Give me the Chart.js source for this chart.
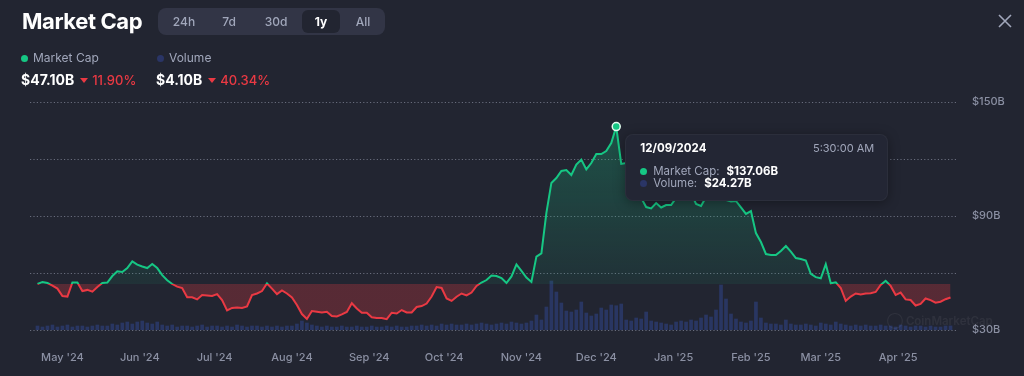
<!DOCTYPE html>
<html>
<head>
<meta charset="utf-8">
<script src="https://cdn.jsdelivr.net/npm/chart.js@4.4.1/dist/chart.umd.min.js"></script>
<style>
  html, body { margin: 0; padding: 0; background: #222531; }
  body { width: 1024px; height: 376px; position: relative; overflow: hidden; font-family: Inter, "Noto Sans", sans-serif; color: #fff; }
  #chart { position: absolute; left: 0; top: 0; }
  #title { position: absolute; left: 22px; top: 6px; font-size: 22px; font-weight: 700; letter-spacing: -0.4px; line-height: 30px; }
  .tabs { position: absolute; left: 158px; top: 8px; width: 227px; height: 27px; background: #323546; border-radius: 8px; }
  .tabs .on { position: absolute; left: 144px; top: 2px; width: 38px; height: 23px; background: #222531; border-radius: 6px; }
  .tab { position: absolute; top: 0; height: 27px; line-height: 27px; font-size: 12px; color: #a1a7bb; font-weight: 500; transform: translateX(-50%); }
  .tab.act { color: #fff; font-weight: 700; }
  #close { position: absolute; left: 998px; top: 14px; }
  .leg { position: absolute; top: 51px; font-size: 12px; color: #a1a7bb; line-height: 14px; }
  .leg i { display: inline-block; width: 7px; height: 7px; border-radius: 50%; margin-right: 5px; vertical-align: 0px; }
  .val { position: absolute; top: 71px; font-size: 14px; font-weight: 700; line-height: 18px; white-space: nowrap; }
  .val .chg { color: #ea3943; font-size: 13px; font-weight: 500; margin-left: 6px; }
  .val .tri { display: inline-block; width: 0; height: 0; border-left: 4px solid transparent; border-right: 4px solid transparent; border-top: 5px solid #ea3943; margin-right: 4px; vertical-align: 2px; }
  #tip { position: absolute; display: none; width: 263px; height: 67px; box-sizing: border-box; background: #232634; border: 1px solid rgba(255,255,255,0.04); border-radius: 8px; box-shadow: 0 2px 12px rgba(0,0,0,0.35); }
  #tip .head { margin: 6px 13px 0 14px; height: 14px; line-height: 14px; display: flex; justify-content: space-between; }
  #tip .head b { font-size: 11.5px; }
  #tip .head span { font-size: 11px; color: #a1a7bb; }
  #tip .row { margin-left: 14px; height: 12px; line-height: 12px; font-size: 11.5px; white-space: nowrap; }
  #tip .row.first { margin-top: 10px; }
  #tip .row i { display: inline-block; width: 7px; height: 7px; border-radius: 50%; margin-right: 6px; vertical-align: 0px; }
  #tip .row span { color: #a1a7bb; margin-right: 7px; }
  #mark { position: absolute; left: 887px; top: 314px; font-size: 11.5px; color: rgba(255,255,255,0.06); font-weight: 600; }
</style>
</head>
<body>
<canvas id="chart" width="1024" height="376"></canvas>

<div id="title">Market Cap</div>
<div class="tabs">
  <div class="on"></div>
  <div class="tab" style="left:26px">24h</div>
  <div class="tab" style="left:71px">7d</div>
  <div class="tab" style="left:118px">30d</div>
  <div class="tab act" style="left:163px">1y</div>
  <div class="tab" style="left:205px">All</div>
</div>
<svg id="close" width="14" height="14"><path d="M1 1L13 13M13 1L1 13" stroke="#a1a7bb" stroke-width="1.6"/></svg>

<div class="leg" style="left:21px"><i style="background:#16c784"></i>Market Cap</div>
<div class="leg" style="left:157px"><i style="background:#2a3566"></i>Volume</div>
<div class="val" style="left:21px">$47.10B<span class="chg"><span class="tri"></span>11.90%</span></div>
<div class="val" style="left:156px">$4.10B<span class="chg"><span class="tri"></span>40.34%</span></div>

<div id="mark">&#9711; CoinMarketCap</div>

<div id="tip">
  <div class="head"><b id="tipDate"></b><span id="tipTime"></span></div>
  <div class="row first"><i style="background:#16c784"></i><span>Market Cap:</span><b id="tipCap"></b></div>
  <div class="row"><i style="background:#2a3566"></i><span>Volume:</span><b id="tipVol"></b></div>
</div>

<script>
// one sample every 2 days, starting 21 Apr 2024
const startDate = Date.UTC(2024, 3, 21);
const days = [];
for (let d = 0; d <= 366; d += 2) days.push(d);

// market cap, $B
const mcap = [54.2,55.3,54.7,53.4,51.8,47.9,47.6,55.0,55.0,50.5,
  51.1,50.2,52.6,54.7,55.0,58.4,60.9,60.5,62.6,66.1,
  64.4,63.4,62.6,64.7,62.6,58.9,56.2,54.2,52.8,52.1,
  47.2,47.2,46.1,48.4,48.2,47.9,48.9,45.8,40.3,41.6,
  41.9,41.6,42.4,48.4,49.2,50.5,54.5,51.8,48.9,50.8,
  49.2,47.1,43.2,38.4,35.8,40.0,39.6,39.2,39.6,37.4,
  37.1,38.2,39.5,44.1,41.3,39.1,39.1,36.7,36.3,36.3,
  35.7,39.1,38.7,40.5,39.2,39.2,42.1,42.6,43.9,47.6,
  52.6,52.1,46.6,45.3,47.5,49.2,48.2,49.7,53.2,55.0,
  56.3,58.7,58.4,57.3,54.7,58.2,64.5,61.1,57.6,55.3,
  68.6,70.3,91.6,107.4,110.0,113.7,114.2,111.6,117.1,119.7,
  114.5,117.9,122.6,122.6,124.2,128.4,137.06,117.4,117.9,116.8,
  106.3,99.5,94.7,94.0,96.8,94.5,95.8,95.8,99.5,104.7,
  106.8,102.1,96.3,95.3,100.0,104.7,110.0,110.0,98.4,97.6,
  97.9,94.5,91.1,92.6,81.0,76.3,70.0,69.5,69.5,71.6,
  74.2,71.3,67.9,67.4,66.6,59.5,57.8,57.2,64.7,54.6,
  55.1,52.1,45.3,47.6,49.2,48.7,49.2,49.3,50.0,53.7,
  55.9,53.2,48.4,49.7,46.1,45.8,42.9,43.7,46.6,45.7,
  44.4,44.9,46.2,47.10];

// volume, $B
const volume = [4,3,4,5,3,4,5,3,4,4,3,4,5,4,4,
  6,5,7,8,6,8,9,7,6,8,5,
  4,5,3,4,4,3,4,5,3,4,4,3,4,3,5,4,3,4,4,3,4,3,4,3,4,
  4,6,9,7,5,
  4,3,4,3,3,4,3,3,4,3,3,4,3,3,4,3,4,3,3,4,
  4,5,4,5,4,6,5,6,5,5,6,5,6,7,6,5,6,
  7,6,8,7,6,7,9,
  15,10,23,49,38,27,19,18,20,28,17,14,16,22,20,25,24.27,
  26,10,9,12,11,18,9,8,7,6,5,
  8,9,8,10,9,12,15,13,
  20,45,31,16,11,8,7,9,
  28,12,7,6,6,5,10,
  6,5,5,6,5,4,7,6,5,8,6,5,4,5,4,5,4,4,5,4,4,3,5,4,3,4,4,3,4,3,3,4,4.1];

const monthTicks = [10,41,71,102,133,163,194,224,255,286,314,345];
const monthLabels = ["May '24","Jun '24","Jul '24","Aug '24","Sep '24","Oct '24","Nov '24","Dec '24","Jan '25","Feb '25","Mar '25","Apr '25"];
const yTickValues = [30,60,90,120,150];
const yTickLabels = ['$30B','','$90B','','$150B'];

const activeIndex = 116;   // 12/09/2024
const tipTime = '5:30:00 AM';
const base = mcap[0];

// gradient with a hard switch at the baseline value
function splitGradient(chart, c1, c2, c3, c4) {
  const {ctx, chartArea, scales} = chart;
  if (!chartArea || !scales.y) return c1;
  const by = scales.y.getPixelForValue(base);
  let t = (by - chartArea.top) / (chartArea.bottom - chartArea.top);
  t = Math.min(Math.max(t, 0), 1);
  const g = ctx.createLinearGradient(0, chartArea.top, 0, chartArea.bottom);
  g.addColorStop(0, c1);
  g.addColorStop(t, c2);
  g.addColorStop(t, c3);
  g.addColorStop(1, c4);
  return g;
}

function fmtDate(d) {
  const dt = new Date(startDate + d * 86400000);
  const mm = String(dt.getUTCMonth() + 1).padStart(2, '0');
  const dd = String(dt.getUTCDate()).padStart(2, '0');
  return mm + '/' + dd + '/' + dt.getUTCFullYear();
}

function renderTip(context) {
  const tooltip = context.tooltip;
  const el = document.getElementById('tip');
  if (tooltip.opacity === 0 || !tooltip.dataPoints || !tooltip.dataPoints.length) {
    el.style.display = 'none';
    return;
  }
  const i = tooltip.dataPoints[0].dataIndex;
  document.getElementById('tipDate').textContent = fmtDate(days[i]);
  document.getElementById('tipTime').textContent = tipTime;
  document.getElementById('tipCap').textContent = '$' + mcap[i].toFixed(2) + 'B';
  document.getElementById('tipVol').textContent = '$' + volume[i].toFixed(2) + 'B';
  el.style.display = 'block';
  el.style.left = (tooltip.caretX + 9) + 'px';
  el.style.top = (tooltip.caretY + 7) + 'px';
}

const tickFont = {family: 'Inter', size: 11, weight: 500};

const ctx = document.getElementById('chart').getContext('2d');
const chart = new Chart(ctx, {
  type: 'line',
  data: {
    datasets: [{
      label: 'Market Cap',
      data: days.map((d, i) => ({x: d, y: mcap[i]})),
      yAxisID: 'y',
      order: 0,
      borderWidth: 2,
      tension: 0,
      pointRadius: 0,
      pointHoverRadius: 4,
      pointHoverBorderWidth: 1.5,
      pointHoverBackgroundColor: '#16c784',
      pointHoverBorderColor: '#e3fbef',
      borderColor: c => splitGradient(c.chart, '#16c784', '#16c784', '#ea3943', '#ea3943'),
      backgroundColor: c => splitGradient(c.chart, 'rgba(22,199,132,0.30)', 'rgba(22,199,132,0.08)', 'rgba(234,57,67,0.27)', 'rgba(234,57,67,0.27)'),
      fill: {value: base}
    }, {
      type: 'bar',
      label: 'Volume',
      data: days.map((d, i) => ({x: d, y: volume[i]})),
      yAxisID: 'yv',
      order: 1,
      backgroundColor: 'rgba(52,76,160,0.45)',
      barThickness: 3
    }]
  },
  options: {
    responsive: false,
    animation: false,
    events: [],
    layout: {padding: {top: 102, left: 30, right: 0, bottom: 0}},
    scales: {
      x: {
        type: 'linear',
        offset: false,
        min: -3,
        max: 369,
        afterBuildTicks: s => { s.ticks = monthTicks.map(v => ({value: v})); },
        afterFit: s => { s.height = 46; },
        grid: {display: false, offset: false},
        border: {display: false},
        ticks: {
          padding: 13, color: '#8b90a3', font: tickFont, autoSkip: false, maxRotation: 0,
          callback: v => monthLabels[monthTicks.indexOf(v)]
        }
      },
      y: {
        position: 'right',
        min: 30,
        max: 150,
        afterBuildTicks: s => { s.ticks = yTickValues.map(v => ({value: v})); },
        afterFit: s => { s.width = 66; },
        grid: {color: '#686c7c', lineWidth: 1, drawTicks: false},
        border: {display: false, dash: [1.2, 2.2]},
        ticks: {
          padding: 14, color: '#8b90a3', font: tickFont,
          callback: v => yTickLabels[yTickValues.indexOf(v)]
        }
      },
      yv: {display: false, min: 0, max: 228}
    },
    plugins: {
      legend: {display: false},
      tooltip: {enabled: false, external: renderTip}
    }
  }
});

const act = [{datasetIndex: 0, index: activeIndex}];
chart.setActiveElements(act);
const pt = chart.getDatasetMeta(0).data[activeIndex];
chart.tooltip.setActiveElements(act, {x: pt.x, y: pt.y});
chart.update();
</script>
</body>
</html>
